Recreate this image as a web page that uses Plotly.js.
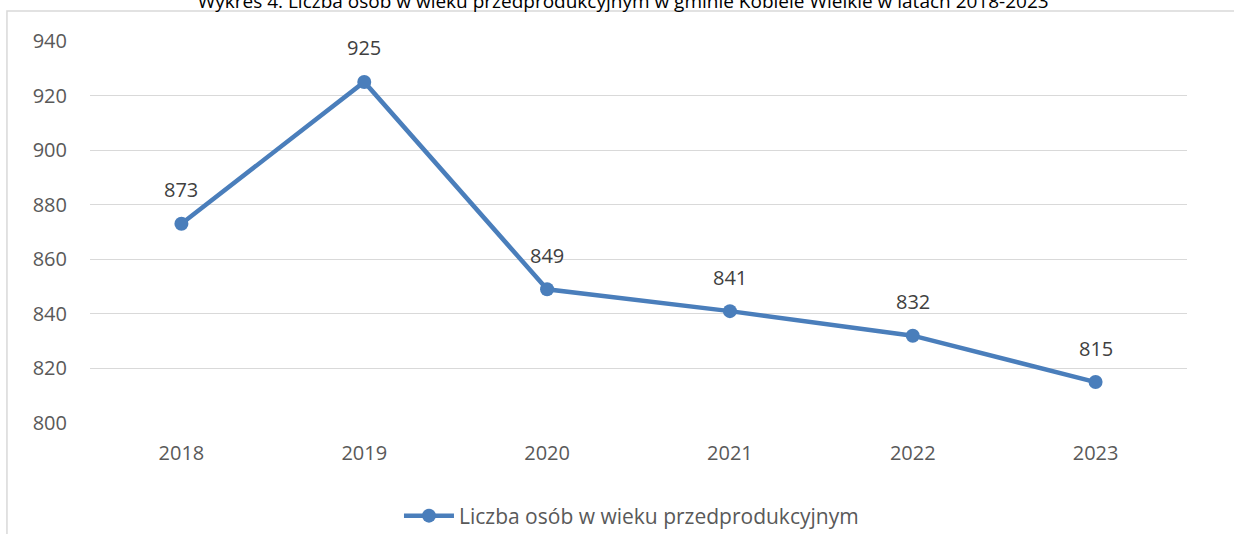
<!DOCTYPE html>
<html>
<head>
<meta charset="utf-8">
<script src="https://cdn.plot.ly/plotly-3.0.1.min.js"></script>
<style>
  html, body { margin: 0; padding: 0; background: #fff; }
  #chart { width: 1234px; height: 534px; }
</style>
</head>
<body>
<div id="chart"></div>
<script>
// data
var years = ["2018", "2019", "2020", "2021", "2022", "2023"];
var persons = [873, 925, 849, 841, 832, 815];
var seriesName = "Liczba osób w wieku przedprodukcyjnym";
var chartTitle = "Wykres 4. Liczba osób w wieku przedprodukcyjnym w gminie Kobiele Wielkie w latach 2018-2023";
var yTicks = [800, 820, 840, 860, 880, 900, 920, 940];

var blue = "#4a7ebb";
var fontFam = "Open Sans, Liberation Sans, sans-serif";

var trace = {
    x: years,
    y: persons,
    name: seriesName,
    type: "scatter",
    mode: "lines+markers",
    line: {color: blue, width: 4.5},
    marker: {color: blue, size: 14},
    cliponaxis: false
};

// value labels above each point (x by category index, numeric-looking
// strings would otherwise be read as positions)
var labels = persons.map(function (v, i) {
    return {
        x: i, y: v, text: String(v),
        xref: "x", yref: "y",
        showarrow: false, yshift: 34,
        font: {family: fontFam, size: 20, color: "#404040"}
    };
});

var layout = {
    width: 1234,
    height: 534,
    margin: {l: 90, r: 47, t: 41, b: 111, autoexpand: false},
    paper_bgcolor: "#fff",
    plot_bgcolor: "#fff",
    font: {family: fontFam, size: 20, color: "#595959"},
    title: {
        text: chartTitle,
        font: {family: fontFam, size: 19, color: "#000"},
        x: 0.505, xanchor: "center",
        y: 0.997, yref: "container", yanchor: "middle", pad: {t: 0, b: 0}
    },
    xaxis: {
        type: "category",
        range: [-0.5, 5.5],
        showgrid: false,
        zeroline: false,
        showline: false,
        ticks: "",
        ticklabelstandoff: 16,
        fixedrange: true
    },
    yaxis: {
        range: [800, 940],
        tickvals: yTicks,
        showgrid: true,
        gridcolor: "#d9d9d9",
        gridwidth: 1,
        zeroline: false,
        showline: false,
        ticks: "",
        ticklabelstandoff: 22,
        fixedrange: true
    },
    showlegend: true,
    legend: {
        orientation: "h",
        x: 0.4936, xanchor: "center",
        y: -0.2435, yanchor: "middle",
        font: {family: fontFam, size: 21, color: "#595959"},
        itemwidth: 50
    },
    annotations: labels,
    shapes: [{
        type: "rect", xref: "paper", yref: "paper",
        x0: -0.0757, x1: 1.2, y0: -0.6, y1: 1.0785,
        line: {color: "#d9d9d9", width: 1.5},
        layer: "below"
    }]
};

Plotly.newPlot("chart", [trace], layout, {displayModeBar: false, staticPlot: true});
</script>
</body>
</html>
